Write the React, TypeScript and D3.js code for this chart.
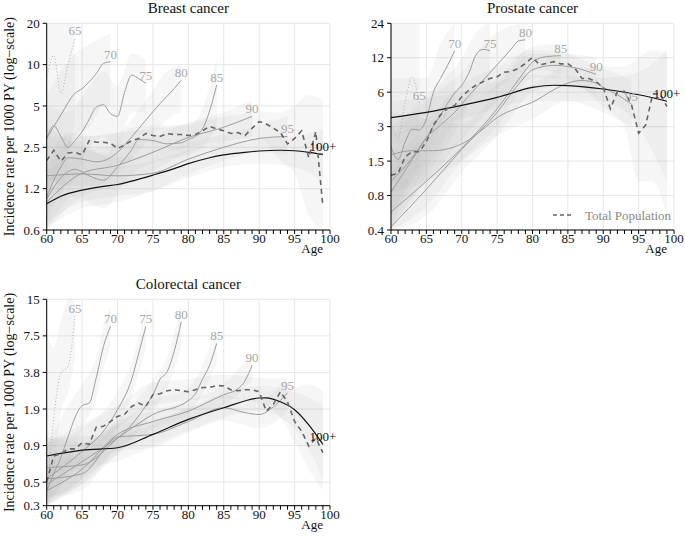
import React from 'react';
import * as d3 from 'd3';

type Pt = [number, number];
type Band = [number, number, number];

const cohortLabels = ['65', '70', '75', '80', '85', '90', '95', '100+'];

// ---- Breast cancer ----
const breastTicks = [20, 10, 5, 2.5, 1.25, 0.625];
const breastTickLabels = ['20', '10', '5', '2.5', '1.2', '0.6'];
const breast65: Pt[] = [[60, 7.9], [61, 11.7], [62, 6.2], [63, 10], [64, 15.6]];
const breast70: Pt[] = [[60, 2.9], [62, 4.3], [64, 6.2], [65, 6.7], [66, 7.5], [67, 8.6], [68, 10.2], [69, 10.5]];
const breast75: Pt[] = [[60, 2.9], [61, 3.6], [62, 3.0], [63, 2.5], [64, 2.8], [65, 3.25], [66, 4.0], [67, 4.9], [68, 5.1], [69, 4.4], [70, 4.2], [71, 6.3], [72, 8.4], [73, 7.9], [74, 7.3]];
const breast80: Pt[] = [[60, 1.09], [62, 1.8], [63, 2.1], [65, 2.05], [67, 1.96], [69, 2.1], [70, 2.3], [72, 2.98], [74, 3.95], [76, 5.2], [78, 6.7], [79, 7.7]];
const breast85: Pt[] = [[60, 1.05], [62, 1.5], [64, 1.73], [66, 1.55], [68, 1.44], [70, 1.8], [72, 2.4], [73, 2.85], [75, 2.8], [77, 2.65], [79, 2.7], [80, 2.85], [81, 3.0], [82, 3.4], [83, 4.6], [84, 7.1]];
const breast90: Pt[] = [[60, 1.0], [65, 1.62], [70, 1.85], [75, 2.3], [80, 2.95], [85, 3.5], [89, 4.2]];
const breast95: Pt[] = [[60, 1.55], [65, 1.6], [70, 1.55], [75, 1.62], [80, 2.05], [85, 2.5], [90, 2.9], [94, 3.0]];
const breast100: Pt[] = [[60, 0.97], [62, 1.1], [65, 1.22], [68, 1.3], [70, 1.34], [72, 1.42], [75, 1.57], [78, 1.75], [80, 1.9], [83, 2.1], [85, 2.2], [88, 2.3], [90, 2.35], [93, 2.38], [95, 2.36], [97, 2.3], [99, 2.22]];
const breastTotal: Pt[] = [[60, 2.0], [61, 2.38], [62, 1.98], [63, 2.27], [64, 2.3], [65, 2.2], [66, 2.8], [67, 2.72], [68, 2.72], [69, 2.68], [70, 2.45], [71, 2.6], [72, 2.8], [73, 2.9], [74, 3.15], [75, 3.05], [76, 3.0], [77, 3.15], [78, 3.1], [79, 3.1], [80, 3.05], [81, 3.1], [82, 3.3], [83, 3.55], [84, 3.4], [85, 3.3], [86, 3.15], [87, 3.2], [88, 3.05], [89, 3.45], [90, 3.85], [91, 3.7], [92, 3.45], [93, 3.2], [94, 2.65], [95, 2.9], [96, 3.3], [97, 2.1], [98, 3.25], [99, 0.92]];
const breastBand65: Band[] = [[60, 0.6, 20], [61, 1.5, 20], [62, 1.0, 20], [63, 2.0, 20], [64, 4.0, 20]];
const breastBand70: Band[] = [[60, 1.2, 6], [62, 1.8, 9], [64, 3, 12], [66, 3.5, 14], [68, 5, 16], [69, 5, 17]];
const breastBand75: Band[] = [[60, 1.5, 5], [63, 1.3, 4.5], [66, 2.5, 7], [68, 3, 9], [70, 2.5, 7], [72, 4.5, 12], [74, 4.5, 11]];
const breastBand80: Band[] = [[60, 0.7, 1.8], [63, 1.3, 3.2], [66, 1.3, 3], [70, 1.6, 3.2], [74, 2.7, 5.5], [77, 4, 9], [79, 4.5, 10]];
const breastBand85: Band[] = [[60, 0.6, 1.8], [64, 1.1, 2.8], [68, 0.9, 2.2], [72, 1.6, 3.5], [76, 2, 3.6], [80, 2.2, 3.6], [82, 2.5, 4.8], [84, 3.5, 11]];
const breastBand90: Band[] = [[60, 0.6, 1.7], [65, 1.1, 2.3], [70, 1.3, 2.6], [75, 1.7, 3], [80, 2.3, 3.8], [85, 2.7, 4.5], [89, 3, 5.5]];
const breastBand95: Band[] = [[60, 0.7, 3.5], [65, 1.0, 2.5], [70, 1.1, 2.1], [75, 1.2, 2.2], [80, 1.6, 2.7], [85, 2, 3.1], [90, 2.3, 3.6], [94, 2.2, 4.2]];
const breastBand100: Band[] = [[60, 0.65, 1.5], [65, 0.9, 1.7], [70, 1.0, 1.8], [75, 1.2, 2.0], [80, 1.5, 2.4], [85, 1.8, 2.7], [90, 1.9, 2.9], [95, 1.8, 3.0], [99, 1.4, 3.4]];
const breastBandTotal: Band[] = [[60, 1.4, 3], [65, 1.6, 3], [70, 1.9, 3.2], [80, 2.5, 3.7], [90, 2.9, 4.5], [93, 2, 4.5], [95, 1.6, 5], [97, 0.8, 6], [99, 0.6, 5.5]];

// ---- Prostate cancer ----
const prostateTicks = [24, 12, 6, 3, 1.5, 0.75, 0.375];
const prostateTickLabels = ['24', '12', '6', '3', '1.5', '0.8', '0.4'];
const prostate65: Pt[] = [[60, 3.2], [61, 2.4], [62, 4.9], [63, 8.2], [64, 4.8]];
const prostate70: Pt[] = [[60, 2.0], [61, 1.55], [62, 2.2], [63, 2.85], [64, 2.8], [65, 3.5], [66, 6.0], [67, 7.9], [68, 10.3], [69, 13.8]];
const prostate75: Pt[] = [[60, 0.8], [61, 1.0], [63, 1.55], [65, 2.4], [67, 3.8], [69, 5.9], [70, 6.9], [71, 8.8], [72, 12.7], [73, 14.2], [74, 13.8]];
const prostate80: Pt[] = [[60, 1.0], [63, 1.6], [65, 2.4], [67, 3.1], [69, 4.0], [71, 5.6], [73, 7.6], [75, 10.4], [77, 14.3], [78, 16.8], [79, 17.2]];
const prostate85: Pt[] = [[60, 0.54], [65, 1.0], [70, 1.95], [75, 4.3], [77, 6.3], [79, 9.3], [80, 11.0], [82, 12.3], [84, 12.5]];
const prostate90: Pt[] = [[60, 0.4], [65, 0.85], [70, 1.9], [75, 4.0], [78, 7.0], [80, 9.4], [83, 10.3], [86, 9.8], [89, 8.6]];
const prostate95: Pt[] = [[60, 1.7], [63, 1.85], [66, 1.85], [69, 2.0], [71, 2.3], [73, 2.85], [75, 3.6], [78, 4.4], [80, 4.9], [83, 6.3], [85, 7.2], [87, 7.6], [89, 7.2], [90, 6.6], [92, 5.7], [94, 4.7]];
const prostate100: Pt[] = [[60, 3.6], [65, 4.0], [70, 4.6], [75, 5.4], [80, 6.6], [83, 6.9], [85, 6.85], [90, 6.4], [95, 5.7], [99, 5.0]];
const prostateTotal: Pt[] = [[60, 1.13], [61, 1.17], [62, 1.64], [63, 1.81], [64, 1.81], [65, 2.21], [66, 3.1], [67, 3.8], [68, 4.34], [69, 4.6], [70, 5.47], [71, 6.25], [72, 6.9], [73, 7.4], [74, 7.9], [75, 8.2], [76, 8.96], [77, 9.1], [78, 9.7], [79, 10.7], [80, 12.1], [81, 10.4], [82, 10.7], [83, 11.1], [84, 10.6], [85, 10.6], [86, 9.7], [87, 7.9], [88, 7.9], [89, 7.4], [90, 6.6], [91, 4.3], [92, 6.05], [93, 6.1], [94, 4.65], [95, 2.63], [96, 3.1], [97, 5.8], [98, 5.8], [99, 4.5]];
const prostateBand65: Band[] = [[60, 0.375, 24], [62, 0.8, 24], [64, 1.2, 24]];
const prostateBand70: Band[] = [[60, 0.5, 8], [63, 1.1, 8], [65, 1.5, 8], [67, 3, 16], [69, 5, 24]];
const prostateBand75: Band[] = [[60, 0.4, 3], [65, 1.1, 5.5], [70, 3.5, 12], [72, 6, 20], [74, 7, 24]];
const prostateBand80: Band[] = [[60, 0.375, 2.5], [65, 1, 5], [70, 2.3, 9], [75, 5, 20], [79, 8, 24]];
const prostateBand85: Band[] = [[60, 0.375, 1.5], [65, 0.6, 3], [70, 1.5, 5], [75, 3, 8], [80, 8, 15], [84, 8, 16]];
const prostateBand90: Band[] = [[60, 0.375, 1.2], [65, 0.5, 2.5], [70, 1.2, 4], [75, 2.5, 7], [80, 6, 13], [85, 7, 13], [89, 5.5, 12]];
const prostateBand95: Band[] = [[60, 0.8, 4], [65, 1, 3.5], [70, 1.5, 3.2], [75, 2.5, 5.5], [80, 3.5, 7], [85, 5, 10], [90, 4, 9.5], [94, 3, 7.5]];
const prostateBand100: Band[] = [[60, 2.5, 5], [70, 3.5, 6], [80, 5, 8.5], [90, 5, 8], [95, 3, 9], [99, 1, 14]];
const prostateBandTotal: Band[] = [[60, 0.5, 2.5], [65, 1.3, 3.5], [70, 4, 7], [75, 6.5, 10], [80, 9.5, 14], [85, 8, 13], [90, 4.5, 10], [93, 3, 10], [95, 1.0, 12], [97, 1.0, 14], [99, 0.5, 13]];

// ---- Colorectal cancer ----
const colorectalTicks = [15, 7.5, 3.75, 1.875, 0.9375, 0.46875, 0.3];
const colorectalTickLabels = ['15', '7.5', '3.8', '1.9', '0.9', '0.5', '0.3'];
const colorectal65: Pt[] = [[60, 0.35], [61, 1.6], [62, 3.7], [63, 4.2], [64, 11]];
const colorectal70: Pt[] = [[60, 0.4], [61, 0.55], [62, 0.75], [63, 1.1], [64, 1.6], [65, 2.0], [66, 2.1], [67, 3.4], [68, 6.1], [69, 9.0]];
const colorectal75: Pt[] = [[60, 0.5], [65, 0.84], [68, 1.23], [70, 1.85], [72, 3.3], [73, 5.4], [74, 9.0]];
const colorectal80: Pt[] = [[60, 0.62], [65, 0.65], [70, 1.08], [72, 1.39], [74, 2.0], [75, 2.45], [76, 3.3], [77, 3.8], [78, 5.6], [79, 9.8]];
const colorectal85: Pt[] = [[60, 0.45], [65, 0.69], [70, 1.08], [75, 1.69], [80, 2.2], [81, 2.5], [82, 3.3], [83, 4.3], [84, 6.5]];
const colorectal90: Pt[] = [[60, 0.4], [65, 0.6], [70, 1.16], [75, 1.48], [80, 1.8], [85, 2.46], [87, 2.75], [88, 3.2], [89, 4.3]];
const colorectal95: Pt[] = [[60, 0.5], [65, 0.55], [70, 1.1], [75, 1.16], [80, 1.48], [85, 1.92], [88, 1.75], [90, 1.69], [92, 1.95], [94, 2.55]];
const colorectal100: Pt[] = [[60, 0.77], [65, 0.86], [70, 0.9], [75, 1.16], [80, 1.54], [85, 1.92], [90, 2.31], [91, 2.32], [93, 2.15], [95, 1.85], [97, 1.39], [99, 0.96]];
const colorectalTotal: Pt[] = [[60, 0.47], [61, 0.77], [62, 0.8], [63, 0.88], [64, 0.88], [65, 0.99], [66, 0.96], [67, 1.33], [68, 1.35], [69, 1.48], [70, 1.63], [71, 1.7], [72, 1.97], [73, 2.1], [74, 1.97], [75, 2.46], [76, 2.5], [77, 2.65], [78, 2.7], [79, 2.65], [80, 2.6], [81, 2.7], [82, 2.82], [83, 2.82], [84, 2.93], [85, 2.9], [86, 2.7], [87, 2.65], [88, 2.7], [89, 2.7], [90, 2.6], [91, 1.8], [92, 2.05], [93, 2.6], [94, 2.15], [95, 1.48], [96, 1.23], [97, 0.93], [98, 1.08], [99, 0.82]];
const colorectalBand65: Band[] = [[60, 0.3, 8], [61, 0.5, 6], [62, 1.8, 10], [63, 2.5, 15], [64, 5, 15]];
const colorectalBand70: Band[] = [[60, 0.3, 0.9], [63, 0.6, 2], [65, 1.3, 3], [67, 2.3, 5], [68, 4, 9], [69, 6, 13]];
const colorectalBand75: Band[] = [[60, 0.3, 1], [65, 0.5, 1.3], [70, 1.3, 2.6], [72, 2.4, 4.5], [74, 6, 13]];
const colorectalBand80: Band[] = [[60, 0.35, 1.1], [65, 0.45, 1], [70, 0.8, 1.5], [75, 1.8, 3.3], [77, 2.8, 5], [79, 6, 14]];
const colorectalBand85: Band[] = [[60, 0.3, 0.7], [65, 0.5, 0.95], [70, 0.8, 1.4], [75, 1.3, 2.2], [80, 1.7, 2.8], [82, 2.5, 4.3], [84, 4.5, 9]];
const colorectalBand90: Band[] = [[60, 0.3, 0.6], [65, 0.45, 0.85], [70, 0.9, 1.5], [75, 1.2, 1.8], [80, 1.5, 2.2], [85, 2, 3], [89, 3.2, 5.5]];
const colorectalBand95: Band[] = [[60, 0.35, 0.8], [65, 0.4, 0.75], [70, 0.85, 1.4], [75, 0.9, 1.5], [80, 1.2, 1.9], [85, 1.5, 2.4], [90, 1.3, 2.2], [94, 1.8, 3.5]];
const colorectalBand100: Band[] = [[60, 0.55, 1.1], [70, 0.7, 1.15], [80, 1.25, 1.9], [90, 1.8, 2.9], [95, 1.3, 2.6], [99, 0.5, 2]];
const colorectalBandTotal: Band[] = [[60, 0.3, 1], [65, 0.7, 1.4], [70, 1.3, 2.0], [75, 2, 3.1], [80, 2.2, 3.3], [85, 2.3, 3.6], [90, 2.1, 3.4], [93, 1.6, 3.4], [95, 1.0, 2.8], [97, 0.6, 3], [99, 0.4, 2.6]];

const ageTicks = d3.range(60, 101);
const ageLabels = [60, 65, 70, 75, 80, 85, 90, 95, 100];

const FONT = '"Liberation Serif", "Times New Roman", serif';
const GRAY = '#9d9d9d';

interface PanelSpec {
  id: string;
  title: string;
  left: number;
  right: number;
  top: number;
  bottom: number;
  ticks: number[];
  tickLabels: string[];
  cohorts: Pt[][];
  total: Pt[];
  totalBand: Band[];
  cohortBands: Band[][];
  yTitle: boolean;
  legend: boolean;
}

const panels: PanelSpec[] = [
  {
    id: 'breast', title: 'Breast cancer', left: 46.7, right: 330, top: 23.3, bottom: 230,
    ticks: breastTicks, tickLabels: breastTickLabels,
    cohorts: [breast65, breast70, breast75, breast80, breast85, breast90, breast95, breast100],
    cohortBands: [breastBand65, breastBand70, breastBand75, breastBand80, breastBand85, breastBand90, breastBand95, breastBand100],
    total: breastTotal, totalBand: breastBandTotal, yTitle: true, legend: false,
  },
  {
    id: 'prostate', title: 'Prostate cancer', left: 391, right: 674, top: 23.3, bottom: 230,
    ticks: prostateTicks, tickLabels: prostateTickLabels,
    cohorts: [prostate65, prostate70, prostate75, prostate80, prostate85, prostate90, prostate95, prostate100],
    cohortBands: [prostateBand65, prostateBand70, prostateBand75, prostateBand80, prostateBand85, prostateBand90, prostateBand95, prostateBand100],
    total: prostateTotal, totalBand: prostateBandTotal, yTitle: false, legend: true,
  },
  {
    id: 'colorectal', title: 'Colorectal cancer', left: 46.7, right: 330, top: 299.3, bottom: 505.7,
    ticks: colorectalTicks, tickLabels: colorectalTickLabels,
    cohorts: [colorectal65, colorectal70, colorectal75, colorectal80, colorectal85, colorectal90, colorectal95, colorectal100],
    cohortBands: [colorectalBand65, colorectalBand70, colorectalBand75, colorectalBand80, colorectalBand85, colorectalBand90, colorectalBand95, colorectalBand100],
    total: colorectalTotal, totalBand: colorectalBandTotal, yTitle: true, legend: false,
  },
];

function Panel({ p }: { p: PanelSpec }) {
  const x = d3.scaleLinear().domain([60, 100]).range([p.left, p.right]);
  const y = d3
    .scaleLog()
    .domain([p.ticks[p.ticks.length - 1], p.ticks[0]])
    .range([p.bottom, p.top])
    .clamp(true);

  const line = d3
    .line<Pt>()
    .x((d) => x(d[0]))
    .y((d) => y(d[1]))
    .curve(d3.curveMonotoneX);
  const totalLine = d3
    .line<Pt>()
    .x((d) => x(d[0]))
    .y((d) => y(d[1]));
  const area = d3
    .area<Band>()
    .x((d) => x(d[0]))
    .y0((d) => y(d[1]))
    .y1((d) => y(d[2]))
    .curve(d3.curveMonotoneX);

  const clipId = `clip-${p.id}`;
  const midY = (p.top + p.bottom) / 2;

  return (
    <g fontFamily={FONT}>
      <defs>
        <clipPath id={clipId}>
          <rect x={p.left} y={p.top} width={p.right - p.left} height={p.bottom - p.top} />
        </clipPath>
      </defs>

      {/* grid */}
      {ageLabels.map((a) => (
        <line key={'gx' + a} x1={x(a)} x2={x(a)} y1={p.top} y2={p.bottom} stroke="#e6e6e6" strokeWidth={1} />
      ))}
      {p.ticks.map((t) => (
        <line key={'gy' + t} x1={p.left} x2={p.right} y1={y(t)} y2={y(t)} stroke="#e6e6e6" strokeWidth={1} />
      ))}

      {/* confidence bands */}
      <g clipPath={`url(#${clipId})`}>
        {[...p.cohortBands, p.totalBand].map((b, i) => (
          <path key={'b' + i} d={area(b) || ''} fill="#b8b8b8" fillOpacity={0.12} stroke="none" />
        ))}
      </g>

      {/* cohort lines */}
      <g clipPath={`url(#${clipId})`}>
        {p.cohorts.map((c, i) => {
          const isLast = i === p.cohorts.length - 1;
          const isFirst = i === 0;
          return (
            <path
              key={'c' + i}
              d={line(c) || ''}
              fill="none"
              stroke={isLast ? '#111' : isFirst ? '#b0b0b0' : GRAY}
              strokeWidth={isLast ? 1.2 : 1}
              strokeDasharray={isFirst ? '1,2.2' : undefined}
            />
          );
        })}
        <path
          d={totalLine(p.total) || ''}
          fill="none"
          stroke="#666"
          strokeWidth={1.6}
          strokeDasharray="5,4"
        />
      </g>

      {/* cohort labels */}
      {p.cohorts.map((c, i) => {
        const end = c[c.length - 1];
        const isLast = i === p.cohorts.length - 1;
        return (
          <text
            key={'l' + i}
            x={x(end[0])}
            y={y(end[1]) - 3}
            textAnchor="middle"
            fontSize={13}
            fill={isLast ? '#111' : '#a8a8a8'}
          >
            {cohortLabels[i]}
          </text>
        );
      })}

      {/* axes */}
      <line x1={p.left} x2={p.left} y1={p.top} y2={p.bottom} stroke="#000" strokeWidth={1} />
      <line x1={p.left} x2={p.right} y1={p.bottom} y2={p.bottom} stroke="#000" strokeWidth={1} />
      {p.ticks.map((t, i) => (
        <g key={'yt' + t}>
          <line x1={p.left - 4} x2={p.left} y1={y(t)} y2={y(t)} stroke="#000" />
          <text x={p.left - 7} y={y(t)} dy="0.35em" textAnchor="end" fontSize={13} fill="#111">
            {p.tickLabels[i]}
          </text>
        </g>
      ))}
      {ageTicks.map((a) => (
        <line key={'xt' + a} x1={x(a)} x2={x(a)} y1={p.bottom} y2={p.bottom + 4} stroke="#000" />
      ))}
      {ageLabels.map((a) => (
        <text key={'xl' + a} x={x(a)} y={p.bottom + 13} textAnchor="middle" fontSize={13} fill="#111">
          {a}
        </text>
      ))}
      <text x={p.right - 7} y={p.bottom + 23} textAnchor="end" fontSize={13} fill="#111">
        Age
      </text>

      <text x={(p.left + p.right) / 2} y={p.top - 10.5} textAnchor="middle" fontSize={15} fill="#111">
        {p.title}
      </text>

      {p.yTitle && (
        <text
          transform={`translate(14, ${midY}) rotate(-90)`}
          textAnchor="middle"
          fontSize={14}
          fill="#111"
        >
          Incidence rate per 1000 PY (log−scale)
        </text>
      )}

      {p.legend && (
        <g>
          <line x1={p.right - 121} x2={p.right - 101} y1={p.bottom - 15} y2={p.bottom - 15} stroke="#666" strokeWidth={1.4} strokeDasharray="4,3" />
          <text x={p.right - 89} y={p.bottom - 15} dy="0.35em" fontSize={13} fill="#888">
            Total Population
          </text>
        </g>
      )}
    </g>
  );
}

export default function App() {
  return (
    <svg
      width={685}
      height={541}
      style={{ position: 'absolute', left: 0, top: 0, background: '#fff' }}
    >
      <rect width={685} height={541} fill="#fff" />
      {panels.map((p) => (
        <Panel key={p.id} p={p} />
      ))}
    </svg>
  );
}
